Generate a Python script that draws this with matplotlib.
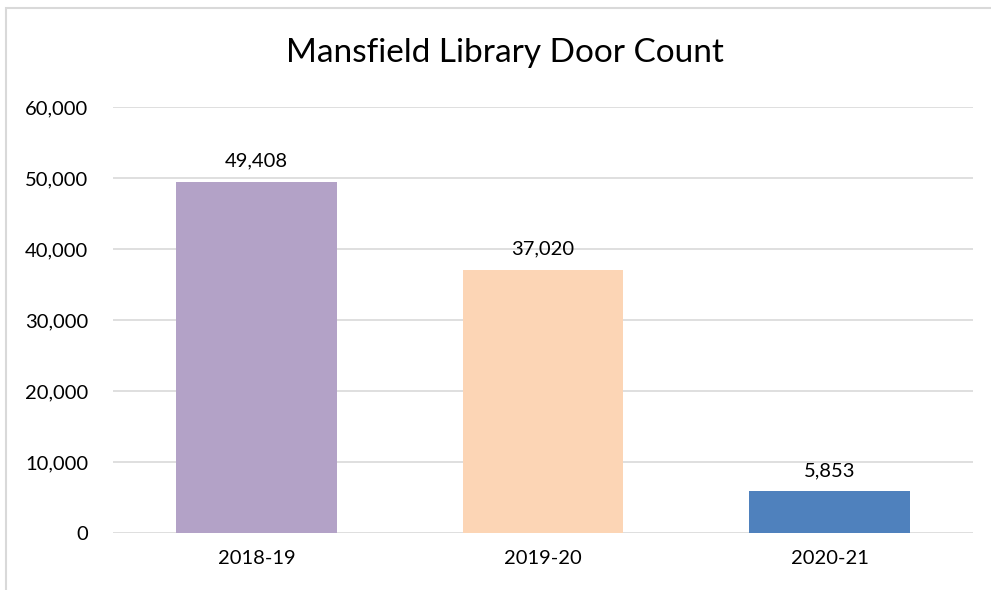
import matplotlib
matplotlib.use('Agg')
import matplotlib.pyplot as plt
from matplotlib.patches import Rectangle
from matplotlib.ticker import FuncFormatter
import numpy as np

# Data
years  = ['2018-19', '2019-20', '2020-21']
counts = [49408, 37020, 5853]
colors = ['#B3A2C7', '#FCD5B5', '#4F81BD']
yticks = [0, 10000, 20000, 30000, 40000, 50000, 60000]

plt.rcParams['font.family'] = ['Lato', 'DejaVu Sans']

fig = plt.figure(figsize=(9.91, 5.9), dpi=100)
ax = fig.add_axes([113/991, 1 - 533/590, 860/991, 426/590])

# outer chart border (cut off at right and bottom like the reference)
fig.patches.append(Rectangle((6/991, -0.1), 1.1, 1 - 8/590 + 0.1,
                             transform=fig.transFigure, fill=False,
                             edgecolor='#D9D9D9', linewidth=1.5))

x = np.arange(len(years))
bars = ax.bar(x, counts, width=0.56, color=colors, zorder=3)

for b, v in zip(bars, counts):
    ax.annotate(f'{v:,}', (b.get_x() + b.get_width()/2, v),
                xytext=(0, 9), textcoords='offset points',
                ha='center', va='bottom', fontsize=14.5, color='#000000')

ax.set_xlim(-0.5, 2.5)
ax.set_ylim(0, 60000)
ax.set_yticks(yticks)
ax.yaxis.set_major_formatter(FuncFormatter(lambda v, p: f'{int(v):,}'))
ax.set_xticks(x)
ax.set_xticklabels(years)
ax.tick_params(axis='both', length=0, labelsize=14.5, colors='#000000')
ax.tick_params(axis='y', pad=18)
ax.tick_params(axis='x', pad=12)
ax.grid(axis='y', color='#D9D9D9', linewidth=1.2, zorder=0)
for s in ax.spines.values():
    s.set_visible(False)

fig.text(505/991, 1 - 53/590, 'Mansfield Library Door Count',
         ha='center', va='center', fontsize=24, color='#000000')

fig.savefig('out.png', dpi=100)
